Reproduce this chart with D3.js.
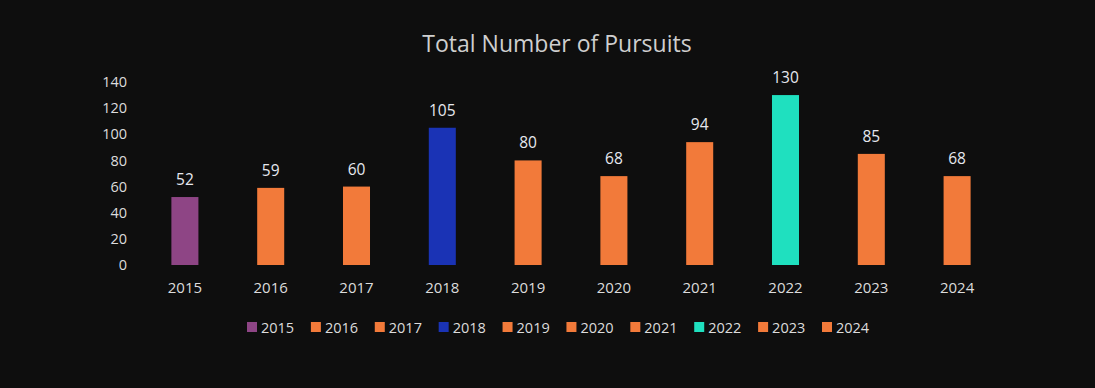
<!DOCTYPE html>
<html>
<head>
<meta charset="utf-8">
<script src="https://cdn.jsdelivr.net/npm/d3@7"></script>
<style>
  body { margin: 0; background: #0e0e0e; }
  svg { display: block; }
  text { font-family: "Open Sans", "Noto Sans", sans-serif; }
</style>
</head>
<body>
<svg width="1095" height="388"></svg>
<script>
var years = ['2015', '2016', '2017', '2018', '2019', '2020', '2021', '2022', '2023', '2024'];
var pursuits = [52, 59, 60, 105, 80, 68, 94, 130, 85, 68];
var barColors = ['#8e4585', '#f27a3a', '#f27a3a', '#1a33b5', '#f27a3a', '#f27a3a', '#f27a3a', '#1fe0bf', '#f27a3a', '#f27a3a'];
var yTicks = [0, 20, 40, 60, 80, 100, 120, 140];

var svg = d3.select('svg');

svg.append('rect')
    .attr('width', 1095)
    .attr('height', 388)
    .attr('fill', '#0e0e0e');

var xScale = d3.scaleBand()
    .domain(years)
    .range([142, 1000])
    .paddingInner(0.685)
    .paddingOuter(0.3425);

var yScale = d3.scaleLinear()
    .domain([0, 140])
    .range([265, 82]);

// title
svg.append('text')
    .attr('x', 557)
    .attr('y', 52)
    .attr('text-anchor', 'middle')
    .attr('fill', '#cfcfcf')
    .style('font-size', '23px')
    .text('Total Number of Pursuits');

// y axis
var yAxis = svg.append('g')
    .attr('transform', 'translate(127,0)')
    .call(d3.axisLeft(yScale).tickValues(yTicks).tickSize(0).tickPadding(0));
yAxis.select('.domain').remove();
yAxis.selectAll('text')
    .attr('fill', '#dcdcdc')
    .style('font-size', '14.5px');

// x axis
var xAxis = svg.append('g')
    .attr('transform', 'translate(0,282)')
    .call(d3.axisBottom(xScale).tickSize(0).tickPadding(0));
xAxis.select('.domain').remove();
xAxis.selectAll('text')
    .attr('fill', '#dcdcdc')
    .style('font-size', '15px');

// bars
svg.append('g')
    .selectAll('rect')
    .data(pursuits)
    .join('rect')
    .attr('x', function(d, i) { return xScale(years[i]); })
    .attr('y', function(d) { return yScale(d); })
    .attr('width', xScale.bandwidth())
    .attr('height', function(d) { return yScale(0) - yScale(d); })
    .attr('fill', function(d, i) { return barColors[i]; });

// value labels
svg.append('g')
    .selectAll('text')
    .data(pursuits)
    .join('text')
    .attr('x', function(d, i) { return xScale(years[i]) + xScale.bandwidth() / 2; })
    .attr('y', function(d) { return yScale(d) - 12; })
    .attr('text-anchor', 'middle')
    .attr('fill', '#e6e8ef')
    .style('font-size', '15.5px')
    .text(function(d) { return d; });

// legend
var legendScale = d3.scalePoint()
    .domain(years)
    .range([247, 822]);

var legend = svg.append('g')
    .selectAll('g')
    .data(years)
    .join('g')
    .attr('transform', function(d) { return 'translate(' + legendScale(d) + ',327)'; });

legend.append('rect')
    .attr('x', 0)
    .attr('y', -5)
    .attr('width', 10)
    .attr('height', 10)
    .attr('fill', function(d, i) { return barColors[i]; });

legend.append('text')
    .attr('x', 14)
    .attr('y', 5.5)
    .attr('fill', '#dcdcdc')
    .style('font-size', '14.5px')
    .text(function(d) { return d; });
</script>
</body>
</html>
